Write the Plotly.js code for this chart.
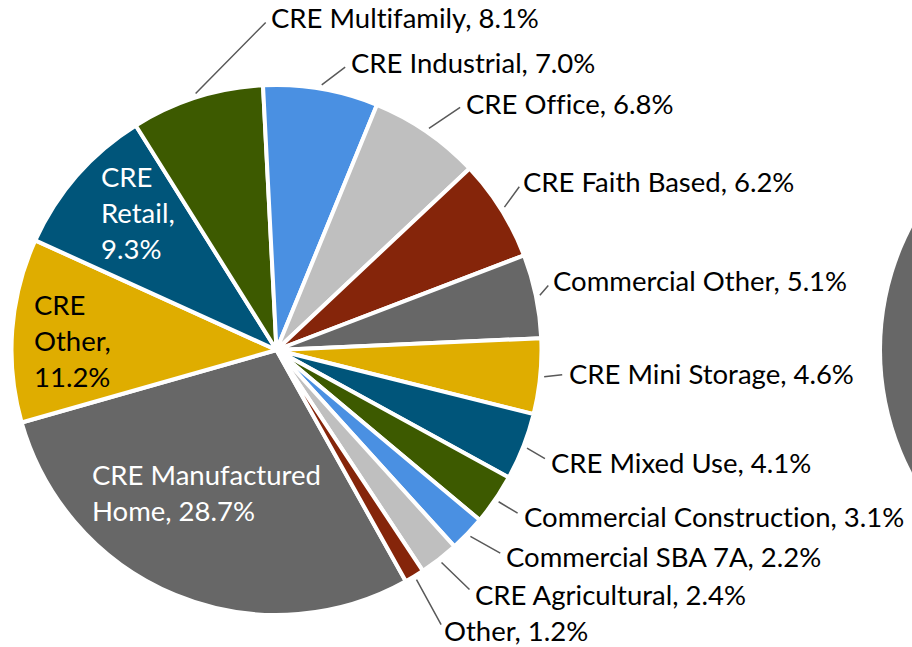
<!DOCTYPE html>
<html>
<head>
<meta charset="utf-8">
<script src="https://cdn.plot.ly/plotly-3.0.1.min.js"></script>
<style>
  html, body { margin: 0; padding: 0; background: #fff; }
  #plot { width: 912px; height: 647px; }
  #plot text { font-variant-ligatures: none; font-feature-settings: "liga" 0, "clig" 0; }
</style>
</head>
<body>
<div id="plot"></div>
<script>
/* Loan mix by category, share of total (%) */

var categories = ["CRE Manufactured Home", "CRE Other", "CRE Retail", "CRE Multifamily",
  "CRE Industrial", "CRE Office", "CRE Faith Based", "Commercial Other", "CRE Mini Storage",
  "CRE Mixed Use", "Commercial Construction", "Commercial SBA 7A", "CRE Agricultural", "Other"];

var shares = [28.7, 11.2, 9.3, 8.1, 7.0, 6.8, 6.2, 5.1, 4.6, 4.1, 3.1, 2.2, 2.4, 1.2];

var sliceColors = ["#676767", "#DFAD00", "#00557A", "#3D5A00", "#4A90E2", "#BFBFBF", "#85250A",
  "#676767", "#DFAD00", "#00557A", "#3D5A00", "#4A90E2", "#BFBFBF", "#85250A"];

/* label placement: inside labels sit at a fraction of the radius,
   outside labels get a leader line, offsets in px from the slice edge */
var placement = [
  {inside: true, rf: 0.6, dx: -9, dy: -4, wrap: "last", color: "#ffffff"},
  {inside: true, rf: 0.773, dx: 0, dy: 6, wrap: "all", color: "#000000"},
  {inside: true, rf: 0.737, dx: 8, dy: -9, wrap: "all", color: "#ffffff"},
  {ax: 75, ay: -76},
  {ax: 29, ay: -22},
  {ax: 37, ay: -25},
  {ax: 19, ay: -26},
  {ax: 13, ay: -15},
  {ax: 25, ay: -3},
  {ax: 24, ay: 14},
  {ax: 25, ay: 15},
  {ax: 36, ay: 20},
  {ax: 33, ay: 32},
  {ax: 28, ay: 51}
];

var W = 912, H = 647;
var CX = 276.5, CY = 350, R = 265;   // pie geometry in px
var startAngle = 150.8;              // first slice starts here, clockwise from 12 o'clock
var fontSize = 27.5;

var total = shares.reduce(function (a, b) { return a + b; }, 0);

var trace = {
  type: "pie",
  labels: categories,
  values: shares,
  sort: false,
  direction: "clockwise",
  rotation: startAngle,
  textinfo: "none",
  showlegend: false,
  marker: {
    colors: sliceColors,
    line: {color: "#ffffff", width: 4}
  },
  domain: {
    x: [(CX - R) / W, (CX + R) / W],
    y: [1 - (CY + R) / H, 1 - (CY - R) / H]
  }
};

var annotations = [];
var cum = 0;
for (var i = 0; i < shares.length; i++) {
  var mid = (startAngle + 360 * (cum + shares[i] / 2) / total) * Math.PI / 180;
  cum += shares[i];
  var p = placement[i];
  var txt = categories[i] + ", " + shares[i].toFixed(1) + "%";
  if (p.inside) {
    var k = txt.lastIndexOf(" ", txt.indexOf(","));
    if (p.wrap === "all") txt = txt.split(" ").join("<br>");
    else txt = txt.slice(0, k) + "<br>" + txt.slice(k + 1);
    var px = CX + R * p.rf * Math.sin(mid) + p.dx;
    var py = CY - R * p.rf * Math.cos(mid) + p.dy;
    annotations.push({
      xref: "paper", yref: "paper",
      x: px / W, y: 1 - py / H,
      text: txt, showarrow: false,
      xanchor: "center", yanchor: "middle", align: "left",
      font: {family: "Lato, sans-serif", size: fontSize, color: p.color}
    });
  } else {
    var hx = CX + (R + 4) * Math.sin(mid);
    var hy = CY - (R + 4) * Math.cos(mid);
    annotations.push({
      xref: "paper", yref: "paper",
      x: hx / W, y: 1 - hy / H,
      ax: p.ax, ay: p.ay,
      text: txt, showarrow: true,
      arrowhead: 0, arrowwidth: 1.5, arrowcolor: "#595959",
      startstandoff: 7, borderpad: 0, borderwidth: 0,
      xanchor: "left", yanchor: "middle", align: "left",
      font: {family: "Lato, sans-serif", size: fontSize, color: "#000000"}
    });
  }
}

var layout = {
  width: W,
  height: H,
  margin: {l: 0, r: 0, t: 0, b: 0},
  paper_bgcolor: "#ffffff",
  annotations: annotations,
  shapes: [{
    // edge of the neighbouring pie, cut off by the frame
    type: "circle", xref: "paper", yref: "paper", layer: "below",
    x0: 882 / W, x1: (882 + 2 * R) / W,
    y0: 1 - (CY + R) / H, y1: 1 - (CY - R) / H,
    fillcolor: "#676767", line: {width: 0}
  }]
};

Plotly.newPlot("plot", [trace], layout, {displayModeBar: false, staticPlot: true});
</script>
</body>
</html>
